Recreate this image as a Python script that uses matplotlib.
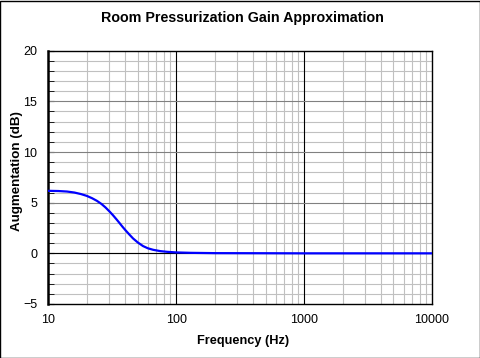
import matplotlib
matplotlib.use("Agg")
import matplotlib.pyplot as plt
from matplotlib.ticker import FixedLocator, NullFormatter

# values
freq = [10, 12, 14, 16, 18, 20, 22, 24, 26, 28, 30, 32, 34, 36, 38, 40, 43, 46,
        50, 55, 60, 66, 75, 85, 100, 130, 200, 500, 1000, 10000]
gain = [6.17, 6.15, 6.10, 6.00, 5.85, 5.67, 5.44, 5.18, 4.88, 4.53, 4.15, 3.77,
        3.38, 3.00, 2.63, 2.30, 1.86, 1.47, 1.08, 0.72, 0.50, 0.35, 0.22, 0.15,
        0.09, 0.05, 0.02, 0.01, 0.0, 0.0]

yticks = [-5, 0, 5, 10, 15, 20]
xticks = [10, 100, 1000, 10000]
xticklabels = ['10', '100', '1000', '10000']

plt.rcParams['font.family'] = ['Liberation Sans', 'DejaVu Sans']

W, H = 481, 358
fig = plt.figure(figsize=(W / 100, H / 100), dpi=100)
fig.patches.append(plt.Rectangle((0.001, 0.001), 0.997, 0.996, transform=fig.transFigure,
                                 fill=False, edgecolor='black', linewidth=1))
ax = fig.add_axes([48.3 / W, 1 - 304 / H, (432 - 48.3) / W, (304 - 50.7) / H])

ax.set_xscale('log')
ax.set_xlim(10, 10000)
ax.set_ylim(-5, 20)

# grid
minor_x = [m * 10 ** d for d in range(1, 4) for m in range(2, 10)]
for x in minor_x:
    ax.axvline(x, color='#c0c0c0', lw=0.8, zorder=1)
for x in xticks[1:-1]:
    ax.axvline(x, color='black', lw=0.8, zorder=2)
for y in range(-4, 20):
    if y % 5:
        ax.axhline(y, color='#c0c0c0', lw=0.8, zorder=1)
for y in yticks[1:-1]:
    ax.axhline(y, color='#808080', lw=0.8, zorder=2)
ax.axhline(0, color='black', lw=0.8, zorder=3)

ax.plot(freq, gain, color='#0000ff', lw=1.6, zorder=4, solid_capstyle='round')

ax.set_xticks(xticks)
ax.set_xticklabels(xticklabels)
ax.xaxis.set_minor_locator(FixedLocator([]))
ax.xaxis.set_minor_formatter(NullFormatter())
ax.set_yticks(yticks)
ax.yaxis.set_minor_locator(FixedLocator(range(-5, 21)))
ax.tick_params(axis='x', length=0, labelsize=9, pad=7)
ax.tick_params(axis='y', which='major', direction='in', length=4, labelsize=9, pad=8)
ax.tick_params(axis='y', which='minor', direction='in', length=4)

for s in ax.spines.values():
    s.set_linewidth(1.0)
ax.spines['left'].set_linewidth(1.8)

fig.text(242 / W, 1 - 18.3 / H, 'Room Pressurization Gain Approximation',
         fontsize=10.3, fontweight='bold', ha='center', va='center')
fig.text(243 / W, 1 - 340.7 / H, 'Frequency (Hz)',
         fontsize=9.2, fontweight='bold', ha='center', va='center')
fig.text(17 / W, 1 - 171.5 / H, 'Augmentation (dB)', rotation=90,
         fontsize=9.6, fontweight='bold', ha='center', va='center')

fig.savefig('out.png', dpi=100)
